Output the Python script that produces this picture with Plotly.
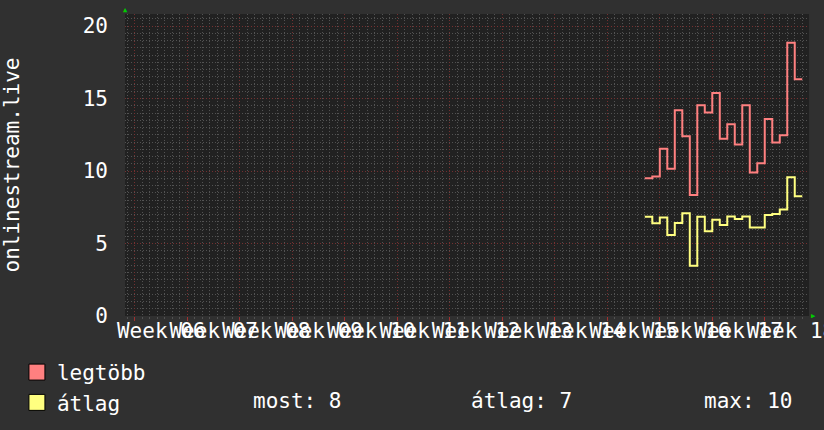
import plotly.graph_objects as go

# ---- data (days counted from the start of Week 06) ----
days = list(range(68, 89))
legtobb = [9.5, 9.62, 11.54, 10.15, 14.19, 12.39, 8.35, 14.53, 14.03, 15.38, 12.23,
           13.22, 11.83, 14.53, 9.9, 10.54, 13.59, 11.97, 12.46, 18.85, 16.33]
atlag = [6.85, 6.39, 6.8, 5.58, 6.41, 7.08, 3.46, 6.85, 5.84, 6.64, 6.27,
         6.87, 6.69, 6.87, 6.11, 6.11, 6.97, 7.04, 7.34, 9.57, 8.26]
week_numbers = list(range(6, 19))
week_labels = ["Week %02d" % w for w in week_numbers]
y_title = "onlinestream.live"

RED = "#ff8080"
YEL = "#ffff80"
BG = "#303030"
PLOT_BG = "#212121"
MINOR = "#525252"
MAJOR = "#743030"
DASH = "1px,2px"
FONT = "DejaVu Sans Mono"
FS = 21

# step ends: each value covers one day
xs = days + [days[-1] + 1]
y_red = legtobb + [legtobb[-1]]
y_yel = atlag + [atlag[-1]]

most = atlag[-1]
avg = sum(atlag) / len(atlag)
mx = max(atlag)

xr = [-1.33, 89.9]

fig = go.Figure()
fig.add_trace(go.Scatter(x=xs, y=y_red, mode="lines", line=dict(shape="hv", color=RED, width=2),
                         showlegend=False, hoverinfo="skip"))
fig.add_trace(go.Scatter(x=xs, y=y_yel, mode="lines", line=dict(shape="hv", color=YEL, width=2),
                         showlegend=False, hoverinfo="skip"))
# legend entries (square swatches)
fig.add_trace(go.Scatter(x=[None], y=[None], mode="markers", name="legtöbb",
                         marker=dict(symbol="square", size=16, color=RED, line=dict(color="#000", width=1))))
fig.add_trace(go.Scatter(x=[None], y=[None], mode="markers", name="átlag",
                         marker=dict(symbol="square", size=16, color=YEL, line=dict(color="#000", width=1))))
# carrier for the label axis
fig.add_trace(go.Scatter(x=[None], y=[None], xaxis="x2", showlegend=False, hoverinfo="skip"))

fig.update_layout(
    width=824, height=430, autosize=False,
    margin=dict(l=125, r=15, t=14, b=114, autoexpand=False),
    paper_bgcolor=BG, plot_bgcolor=PLOT_BG,
    font=dict(family=FONT, size=FS, color="#ffffff"),
    showlegend=True,
    legend=dict(x=-0.158, y=-0.119, xanchor="left", yanchor="top",
                bgcolor="rgba(0,0,0,0)", font=dict(family=FONT, size=FS, color="#ffffff"),
                tracegroupgap=0, itemwidth=30),
    xaxis=dict(
        range=xr, tickmode="linear", tick0=0, dtick=7, automargin=False,
        showticklabels=False, showgrid=True, gridcolor=MAJOR, griddash=DASH, gridwidth=1,
        ticks="outside", ticklen=4, tickcolor="#a03030", zeroline=False, fixedrange=True,
        minor=dict(tickmode="linear", tick0=0, dtick=1, showgrid=True, gridcolor=MINOR,
                   griddash=DASH, gridwidth=1, ticks="outside", ticklen=2, tickcolor=MINOR),
    ),
    xaxis2=dict(
        range=xr, overlaying="x", side="bottom", tickmode="array", automargin=False,
        tickvals=[7 * i + 3.5 for i in range(len(week_labels))],
        ticktext=week_labels, tickangle=0, ticks="", showgrid=False, zeroline=False,
        ticklabeloverflow="allow", tickfont=dict(family=FONT, size=FS, color="#ffffff"),
        fixedrange=True,
    ),
    yaxis=dict(
        range=[0, 20.83], tickmode="linear", tick0=0, dtick=5, showgrid=True, gridcolor=MAJOR,
        griddash=DASH, zeroline=False, ticks="", ticklabelstandoff=16, automargin=False,
        tickfont=dict(family=FONT, size=FS, color="#ffffff"),
        minor=dict(tickmode="linear", tick0=0, dtick=0.5, showgrid=True, gridcolor=MINOR,
                   griddash=DASH, gridwidth=1),
        title=dict(text=y_title, standoff=58, font=dict(family=FONT, size=FS, color="#ffffff")),
        fixedrange=True,
    ),
)

stats = [("most: %.0f" % most, 251), ("átlag: %.0f" % avg, 469), ("max: %.0f" % mx, 702)]
for txt, px in stats:
    fig.add_annotation(text=txt, xref="paper", yref="paper", x=(px - 125) / 684, y=-(401 - 316) / 302,
                       xanchor="left", yanchor="middle", showarrow=False,
                       font=dict(family=FONT, size=FS, color="#ffffff"))

# axis arrows
fig.add_annotation(text="▲", xref="paper", yref="paper", x=0, y=1.0, xanchor="center", yanchor="bottom",
                   showarrow=False, font=dict(size=7, color="#00cc00"), yshift=-2)
fig.add_annotation(text="▶", xref="paper", yref="paper", x=1.0, y=0, xanchor="left", yanchor="middle",
                   showarrow=False, font=dict(size=7, color="#00cc00"), xshift=0)

post = ("document.body.style.margin='0';document.body.style.padding='0';"
        "document.body.style.overflow='hidden';")

fig.write_html("out.html", post_script=post, config={"displayModeBar": False})
